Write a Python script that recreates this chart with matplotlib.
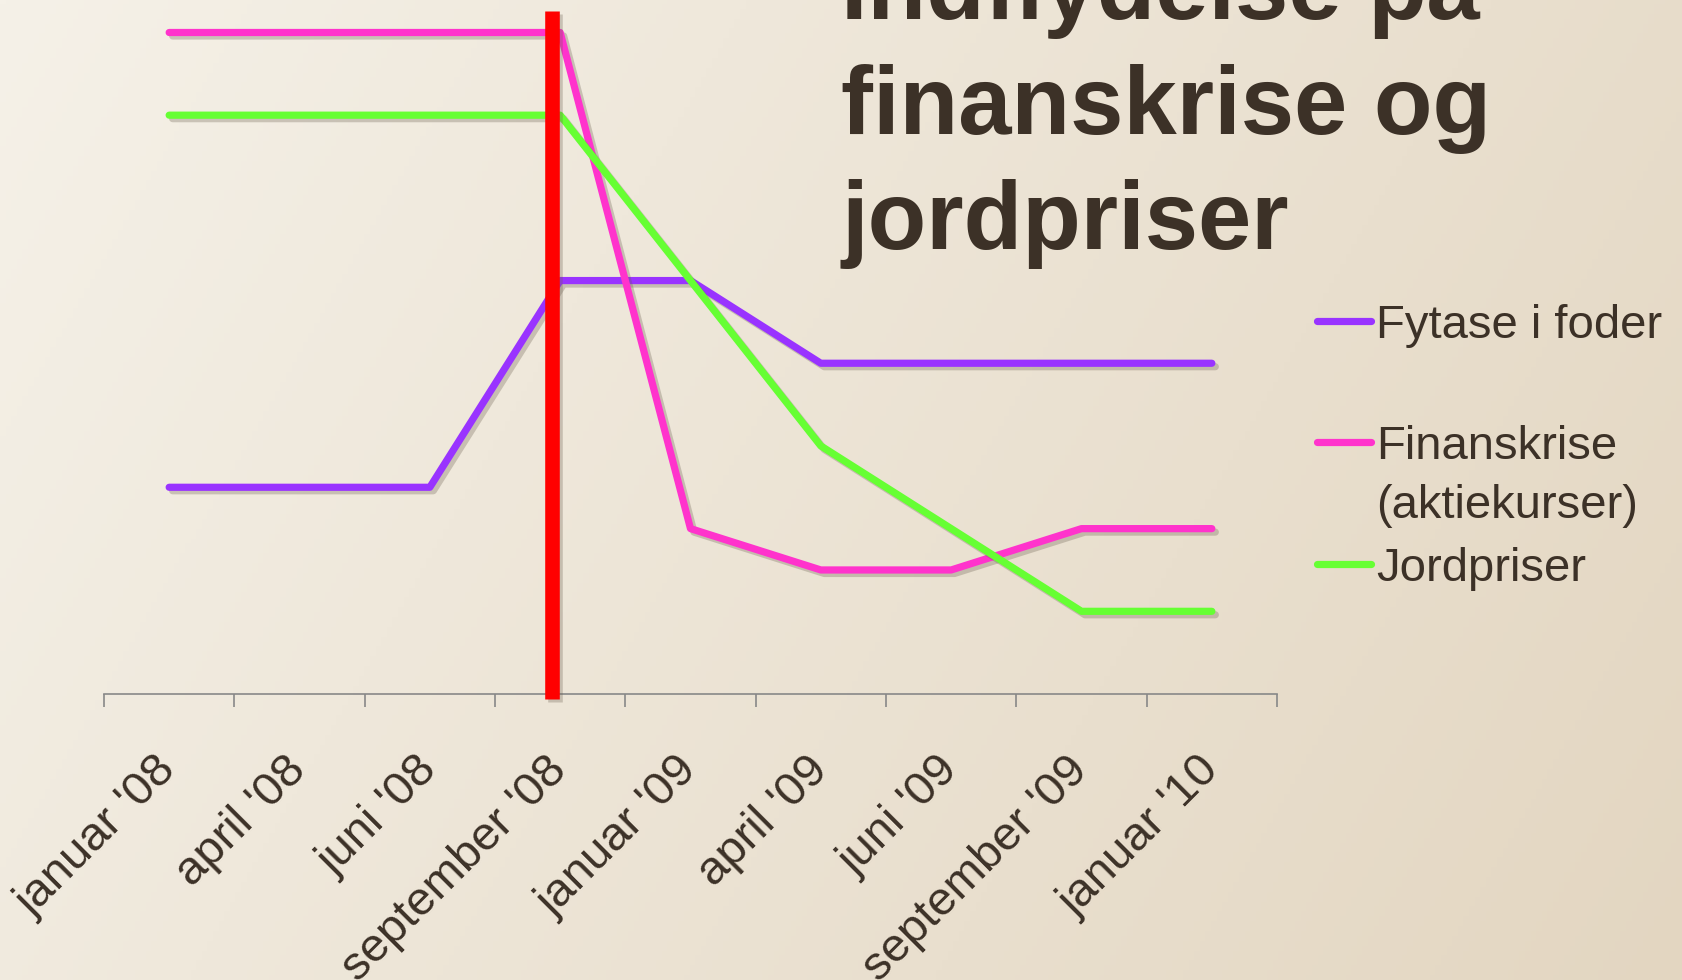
import matplotlib
matplotlib.use("Agg")
import matplotlib.pyplot as plt
import numpy as np
from matplotlib import patheffects as pe
from matplotlib.lines import Line2D

plt.rcParams['font.family'] = ['Liberation Sans', 'DejaVu Sans']

categories = ["januar '08", "april '08", "juni '08", "september '08", "januar '09",
              "april '09", "juni '09", "september '09", "januar '10"]
fytase = [2.5, 2.5, 2.5, 5, 5, 4, 4, 4, 4]
finanskrise = [8, 8, 8, 8, 2, 1.5, 1.5, 2, 2]
jordpriser = [7, 7, 7, 7, 5, 3, 2, 1, 1]
crisis_x = 2.94
crisis_span = [-0.06, 8.26]

series_names = ["Fytase i foder", "Finanskrise\n(aktiekurser)", "Jordpriser"]
colors = ["#9933FF", "#FF33CC", "#66FF33"]

W, H = 1682, 980
fig = plt.figure(figsize=(W / 100, H / 100), dpi=100)

# background gradient
bg = fig.add_axes([0, 0, 1, 1])
xx, yy = np.meshgrid(np.linspace(0, 1, 300), np.linspace(0, 1, 200))
t = np.clip(0.75 * xx + 0.25 * yy, 0, 1)
c0 = np.array([0xF5, 0xF1, 0xE8]) / 255
c1 = np.array([0xE3, 0xD6, 0xC1]) / 255
img = c0[None, None, :] * (1 - t[..., None]) + c1[None, None, :] * t[..., None]
bg.imshow(img, aspect='auto', extent=[0, 1, 0, 1])
bg.axis('off')

left, right = 104 / W, 1277 / W
bottom, top = 1 - 694 / H, 1 - 11 / H
ax = fig.add_axes([left, bottom, right - left, top - bottom])
ax.patch.set_alpha(0)

x = np.arange(len(categories))
shadow = [pe.SimpleLineShadow(offset=(2.5, -2.5), alpha=0.3, shadow_color='#6b5f50'), pe.Normal()]
for vals, col in zip([fytase, finanskrise, jordpriser], colors):
    ax.plot(x, vals, color=col, lw=5.2, solid_capstyle='round', solid_joinstyle='round',
            path_effects=shadow, zorder=3)

ax.plot([crisis_x, crisis_x], crisis_span, color='#FF0000', lw=10.5, zorder=4,
        solid_capstyle='butt', clip_on=False,
        path_effects=[pe.SimpleLineShadow(offset=(2, -2), alpha=0.3, shadow_color='#6b5f50'), pe.Normal()])

ax.set_xlim(-0.5, len(categories) - 0.5)
ax.set_ylim(0, 8.26)
for s in ['top', 'right', 'left']:
    ax.spines[s].set_visible(False)
ax.spines['bottom'].set_color('#888888')
ax.spines['bottom'].set_linewidth(1.2)
ax.set_yticks([])
ax.set_xticks(np.arange(-0.5, len(categories), 1.0))
ax.set_xticklabels([])
ax.tick_params(axis='x', which='major', length=9.4, width=1.2, color='#888888')
ax.set_xticks(x, minor=True)
ax.set_xticklabels(categories, minor=True, rotation=45, ha='right', va='center',
                   rotation_mode='anchor', fontsize=34, color='#3C3127')
ax.tick_params(axis='x', which='minor', length=0, pad=50)

# title
title_lines = ["Indflydelse på", "finanskrise og", "jordpriser"]
for line, yb in zip(title_lines, [19, 134, 249]):
    fig.text(841 / W, 1 - yb / H, line, fontsize=69, fontweight='bold',
             color='#3C3127', ha='left', va='baseline')

# legend
leg_y = [321, 442, 564]
for name, col, yy_ in zip(series_names, colors, leg_y):
    fy = 1 - yy_ / H
    fig.add_artist(Line2D([1317 / W, 1371 / W], [fy, fy], color=col, lw=5.2,
                          solid_capstyle='round', transform=fig.transFigure))
    for k, part in enumerate(name.split("\n")):
        fig.text(1376 / W, 1 - (yy_ + 17 + 59 * k) / H, part, fontsize=34,
                 color='#3C3127', ha='left', va='baseline')

fig.savefig("out.png", dpi=100)
